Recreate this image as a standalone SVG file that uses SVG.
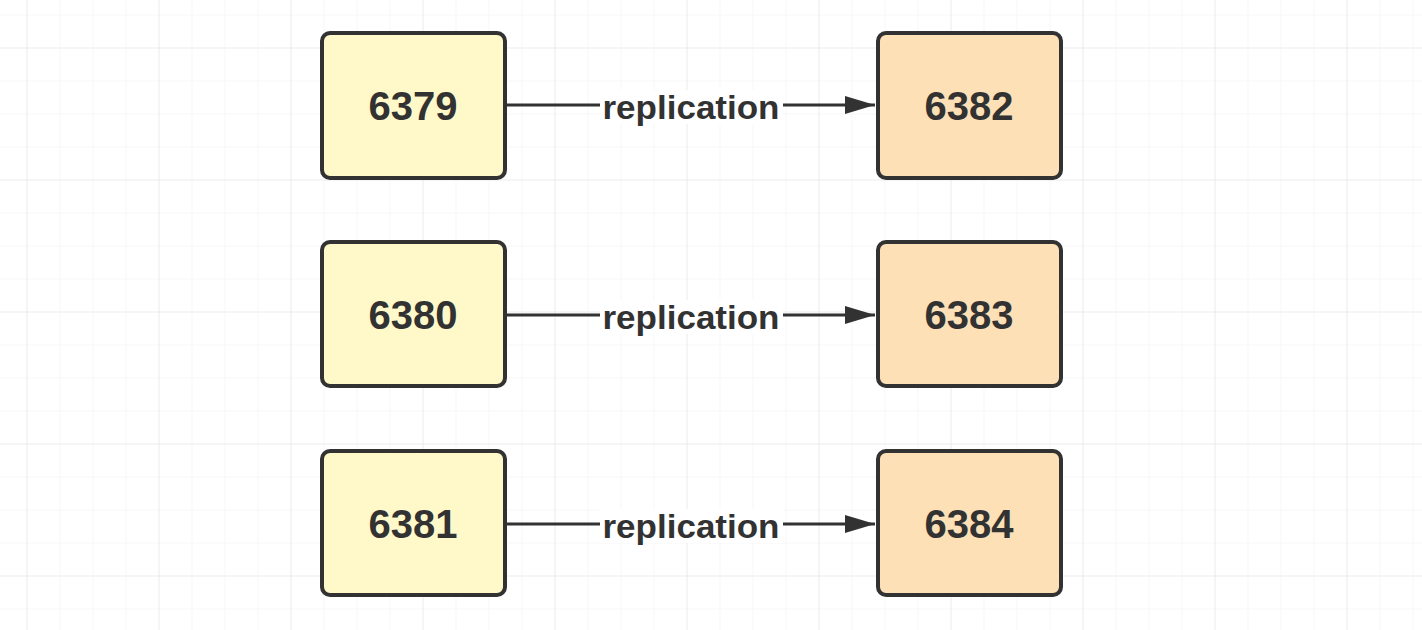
<svg xmlns="http://www.w3.org/2000/svg" width="1422" height="630" viewBox="0 0 1422 630">
  <defs>
    <pattern id="minor" x="26.5" y="14.5" width="33" height="33" patternUnits="userSpaceOnUse">
      <path d="M0 0H33M0 0V33" fill="none" stroke="#efefef" stroke-width="1"/>
    </pattern>
    <pattern id="major" x="26.5" y="47.5" width="132" height="132" patternUnits="userSpaceOnUse">
      <path d="M0 0H132M0 0V132" fill="none" stroke="#e3e3e3" stroke-width="1"/>
    </pattern>
    <marker id="arrow" viewBox="0 0 30 18" refX="30" refY="9" markerWidth="30" markerHeight="18" markerUnits="userSpaceOnUse" orient="auto">
      <path d="M0 0L30 9L0 18Z" fill="#323232"/>
    </marker>
  </defs>
  <style>
    .box { stroke: #323232; stroke-width: 4; }
    .master { fill: #fff8c9; }
    .replica { fill: #fde0b6; }
    .num { font-family: "Liberation Sans", Arial, sans-serif; font-weight: bold; font-size: 40px; fill: #323232; text-anchor: middle; }
    .edge { stroke: #323232; stroke-width: 3; fill: none; }
    .label-bg { fill: #ffffff; }
    .label { font-family: "Liberation Sans", Arial, sans-serif; font-weight: bold; font-size: 34px; fill: #323232; text-anchor: middle; }
  </style>

  <!-- background grid -->
  <rect width="1422" height="630" fill="#ffffff"/>
  <rect width="1422" height="630" fill="url(#minor)"/>
  <rect width="1422" height="630" fill="url(#major)"/>

  <!-- connectors -->
  <g id="connectors">
    <g id="edge-6379-6382">
      <path class="edge" d="M506 105H875" marker-end="url(#arrow)"/>
      <rect class="label-bg" x="600" y="90" width="183" height="34"/>
      <text class="label" x="691" y="119" textLength="177" lengthAdjust="spacingAndGlyphs">replication</text>
    </g>
    <g id="edge-6380-6383">
      <path class="edge" d="M506 315H875" marker-end="url(#arrow)"/>
      <rect class="label-bg" x="600" y="300" width="183" height="34"/>
      <text class="label" x="691" y="329" textLength="177" lengthAdjust="spacingAndGlyphs">replication</text>
    </g>
    <g id="edge-6381-6384">
      <path class="edge" d="M506 524H875" marker-end="url(#arrow)"/>
      <rect class="label-bg" x="600" y="509" width="183" height="34"/>
      <text class="label" x="691" y="538" textLength="177" lengthAdjust="spacingAndGlyphs">replication</text>
    </g>
  </g>

  <!-- master nodes -->
  <g id="node-6379">
    <rect class="box master" x="322" y="33" width="183" height="145" rx="8"/>
    <text class="num" x="413" y="120">6379</text>
  </g>
  <g id="node-6380">
    <rect class="box master" x="322" y="242" width="183" height="144" rx="8"/>
    <text class="num" x="413" y="329">6380</text>
  </g>
  <g id="node-6381">
    <rect class="box master" x="322" y="451" width="183" height="144" rx="8"/>
    <text class="num" x="413" y="538">6381</text>
  </g>

  <!-- replica nodes -->
  <g id="node-6382">
    <rect class="box replica" x="878" y="33" width="183" height="145" rx="8"/>
    <text class="num" x="969" y="120">6382</text>
  </g>
  <g id="node-6383">
    <rect class="box replica" x="878" y="242" width="183" height="144" rx="8"/>
    <text class="num" x="969" y="329">6383</text>
  </g>
  <g id="node-6384">
    <rect class="box replica" x="878" y="451" width="183" height="144" rx="8"/>
    <text class="num" x="969" y="538">6384</text>
  </g>
</svg>
